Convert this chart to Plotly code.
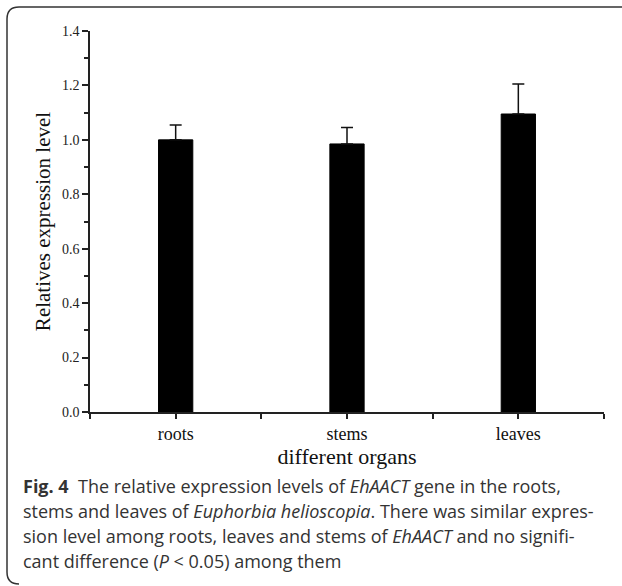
import plotly.graph_objects as go

# ---- data ----
organs = ["roots", "stems", "leaves"]
expression = [1.0, 0.985, 1.095]
errors = [0.055, 0.06, 0.11]
y_title = "Relatives expression level"
x_title = "different organs"
caption_lines = [
    "<b>Fig. 4</b>  The relative expression levels of <i>EhAACT</i> gene in the roots,",
    "stems and leaves of <i>Euphorbia helioscopia</i>. There was similar expres-",
    "sion level among roots, leaves and stems of <i>EhAACT</i> and no signifi-",
    "cant difference (<i>P</i> &lt; 0.05) among them",
]

W, H = 622, 586
ML, MR, MT, MB = 90, 18, 31, 174
PW, PH = W - ML - MR, H - MT - MB


def px(x):
    return (x - ML) / PW


def py(y):
    return (H - MB - y) / PH


SERIF = "Liberation Serif, Times New Roman, serif"
SANS = "Open Sans, Noto Sans, sans-serif"

fig = go.Figure()
fig.add_trace(go.Bar(
    x=list(range(len(organs))),
    y=expression,
    width=0.2,
    marker=dict(color="black", line=dict(color="black", width=1)),
    error_y=dict(type="data", symmetric=False, array=errors,
                 arrayminus=[0] * len(errors), visible=True,
                 color="#111", thickness=1.5, width=6),
    showlegend=False,
))

fig.update_layout(
    width=W, height=H,
    margin=dict(l=ML, r=MR, t=MT, b=MB),
    paper_bgcolor="white", plot_bgcolor="white",
    font=dict(family=SERIF, color="#222"),
    xaxis=dict(
        range=[-0.5, 2.5], tickmode="array",
        tickvals=list(range(len(organs))), ticktext=organs,
        showgrid=False, zeroline=False,
        showline=True, linecolor="#222", linewidth=1.5,
        ticks="outside", ticklen=5, tickwidth=1.5, tickcolor="#222",
        tickfont=dict(family=SERIF, size=18, color="#111"),
        minor=dict(tickmode="array", tickvals=[-0.5, 0.5, 1.5, 2.5],
                   ticks="outside", ticklen=5, tickwidth=1.5, tickcolor="#222"),
        title=dict(text=x_title, font=dict(family=SERIF, size=22, color="#111"),
                   standoff=0),
    ),
    yaxis=dict(
        range=[0, 1.4], tickmode="linear", tick0=0, dtick=0.2,
        tickformat=".1f",
        showgrid=False, zeroline=False,
        showline=True, linecolor="#222", linewidth=1.5,
        ticks="outside", ticklen=6, tickwidth=1.5, tickcolor="#222",
        tickfont=dict(family=SERIF, size=14, color="#222"),
        minor=dict(dtick=0.1, ticks="outside", ticklen=4, tickwidth=1.5,
                   tickcolor="#222", showgrid=False),
        title=dict(text=y_title, font=dict(family=SERIF, size=21, color="#111"),
                   standoff=6),
    ),
)

# caption lines
line_centers = [486, 511, 536, 561]
for txt, yc in zip(caption_lines, line_centers):
    fig.add_annotation(
        text=txt, xref="paper", yref="paper",
        x=px(21), y=py(yc), xanchor="left", yanchor="middle",
        showarrow=False, font=dict(family=SANS, size=18, color="#333"),
    )

# frame (top line + left line with rounded corners)
r = 12
x0, y0, y1 = 7, 7, 584
path = (f"M {px(W + 5)},{py(y0)} L {px(x0 + r)},{py(y0)} "
        f"Q {px(x0)},{py(y0)} {px(x0)},{py(y0 + r)} "
        f"L {px(x0)},{py(y1 - r)} "
        f"Q {px(x0)},{py(y1)} {px(x0 + r)},{py(y1)}")
fig.add_shape(type="path", path=path, xref="paper", yref="paper",
              line=dict(color="#333", width=1.5))

fig.write_html("out.html", config={"displayModeBar": False},
               post_script="document.body.style.margin='0';document.body.style.overflow='hidden';")
